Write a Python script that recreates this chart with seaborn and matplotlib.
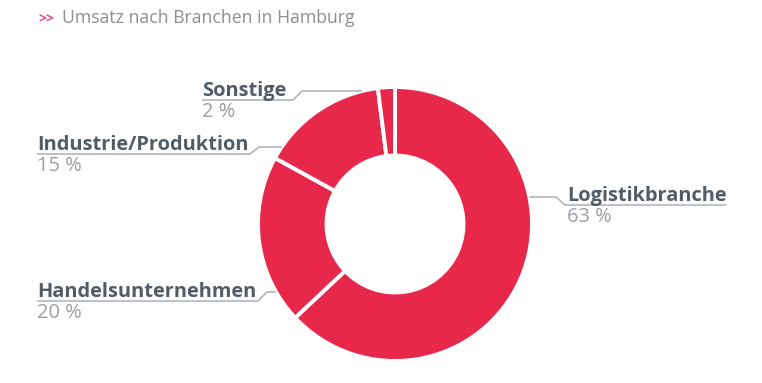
import numpy as np
import matplotlib.pyplot as plt
import seaborn as sns

# data
branches = ["Logistikbranche", "Handelsunternehmen", "Industrie/Produktion", "Sonstige"]
shares = [63, 20, 15, 2]
title = "Umsatz nach Branchen in Hamburg"

sns.set_theme(style="white")
plt.rcParams["font.family"] = ["Open Sans", "DejaVu Sans"]

W, H = 762, 383
red = "#e8284a"
name_col = "#525c66"
pct_col = "#9a9fa5"
line_col = "#a9b0b6"

fig = plt.figure(figsize=(W / 100, H / 100), dpi=100)
ax = fig.add_axes([0, 0, 1, 1])

cx, cy, r = 395, 224, 137
ax.pie(shares, startangle=90, counterclock=False, colors=[red] * len(shares),
       radius=r, center=(cx, H - cy),
       wedgeprops=dict(width=r * 0.5, edgecolor="white", linewidth=2.8))
ax.set_xlim(0, W)
ax.set_ylim(0, H)
ax.set_aspect("equal")
ax.axis("off")


def py(y):
    return H - y


# label layout: x of text, name baseline, connector y, side, underline end
layout = {
    "Logistikbranche": (567, 201, 197, "right", 726),
    "Handelsunternehmen": (37, 297, 292, "left", 258),
    "Industrie/Produktion": (37, 150, 147, "left", 250),
    "Sonstige": (202, 96, 91, "left", 293),
}

for name, val in zip(branches, shares):
    x, yb, yc, side, xend = layout[name]
    yu = yb + 4
    ax.text(x, py(yb), name, fontsize=14.4, fontweight="bold", color=name_col,
            va="baseline", ha="left")
    ax.text(x, py(yb + 21), f"{val} %", fontsize=14.4, color=pct_col,
            va="baseline", ha="left")
    dx = np.sqrt(r ** 2 - (yc - cy) ** 2)
    if side == "left":
        edge = cx - dx
        xs = [x, xend, xend + 9, edge]
    else:
        edge = cx + dx
        xs = [xend, x - 2, x - 11, edge]
    ys = [yu, yu, yc, yc]
    ax.plot(xs, [py(v) for v in ys], color=line_col, lw=1.1, solid_capstyle="butt")

ax.text(38, py(18), ">>", fontsize=10, fontweight="bold", color="#e04a7a", va="center")
ax.text(62, py(18), title, fontsize=12.7, color="#8e8e8e", va="center")

fig.savefig("out.png", dpi=100)
